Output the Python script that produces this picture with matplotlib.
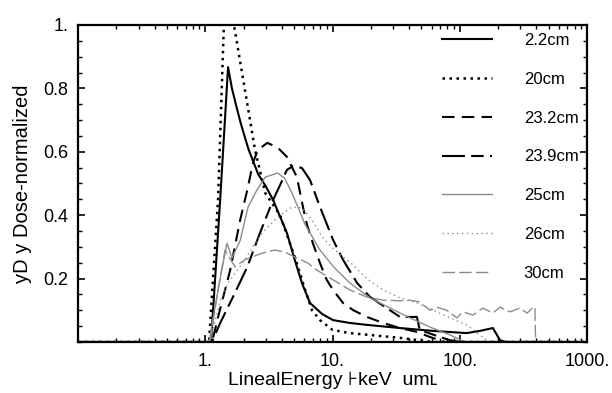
import matplotlib
matplotlib.use("Agg")
import matplotlib.pyplot as plt
from matplotlib.ticker import FixedLocator, FixedFormatter, MultipleLocator, LogLocator, NullFormatter

plt.rcParams["font.family"] = ["Liberation Sans", "DejaVu Sans"]

# lineal energy (keV/um) and normalized y*d(y) for each depth
x_22 = [0.1, 1.11, 1.31, 1.51, 1.62, 1.75, 1.9, 2.05, 2.2, 2.6, 3.0, 3.41, 4.38, 5.05, 5.75,
        6.65, 8.3, 10.1, 13.7, 18.6, 33.9, 61.6, 113, 144, 182, 207, 226, 1000]
y_22 = [0, 0, 0.45, 0.867, 0.80, 0.745, 0.69, 0.645, 0.605, 0.53, 0.49, 0.448, 0.344, 0.259, 0.186,
        0.123, 0.088, 0.069, 0.060, 0.054, 0.044, 0.035, 0.028, 0.035, 0.044, 0.006, 0, 0]

x_20 = [0.1, 1.07, 1.26, 1.40, 1.54, 1.68, 2.04, 2.46, 2.96, 3.87, 5.05, 6.1, 6.9, 7.97,
        10, 13.7, 33.9, 61.6, 1000]
y_20 = [0, 0, 0.45, 1.0, 1.06, 1.0, 0.80, 0.606, 0.47, 0.40, 0.268, 0.164, 0.10, 0.069,
        0.038, 0.028, 0.013, 0, 0]

x_232 = [0.1, 1.13, 1.30, 1.57, 1.88, 2.14, 2.37, 2.59, 3.07, 3.67, 4.38, 5.25, 5.9, 6.3,
         7.0, 7.97, 9.0, 10.1, 12.1, 14.6, 18.6, 25, 33.9, 46, 58, 77, 1000]
y_232 = [0, 0, 0.10, 0.227, 0.385, 0.48, 0.565, 0.606, 0.628, 0.615, 0.584, 0.52, 0.42, 0.37,
         0.312, 0.249, 0.196, 0.164, 0.123, 0.10, 0.079, 0.06, 0.044, 0.032, 0.016, 0, 0]

x_239 = [0.1, 1.13, 1.31, 1.65, 2.14, 2.69, 3.41, 3.87, 4.38, 4.9, 5.75, 6.65, 7.97, 10.1,
         12.1, 15.6, 19.7, 28.3, 33.9, 46, 48.5, 63, 83, 100, 1000]
y_239 = [0, 0, 0.06, 0.142, 0.237, 0.344, 0.448, 0.495, 0.543, 0.555, 0.549, 0.511, 0.426, 0.322,
         0.259, 0.186, 0.142, 0.10, 0.079, 0.079, 0.038, 0.022, 0.006, 0, 0]

x_25 = [0.1, 1.07, 1.26, 1.48, 1.62, 1.88, 2.17, 2.55, 2.96, 3.70, 4.2, 4.8, 6.1, 7.97,
        10.4, 13.7, 19.7, 28.3, 40.6, 58.4, 84, 110, 1000]
y_25 = [0, 0, 0.164, 0.312, 0.265, 0.32, 0.426, 0.48, 0.52, 0.533, 0.517, 0.47, 0.37, 0.29,
        0.233, 0.186, 0.139, 0.107, 0.076, 0.047, 0.022, 0, 0]

x_26 = [0.1, 1.09, 1.31, 1.51, 2.04, 2.79, 3.70, 4.8, 5.75, 6.9, 8.3, 10.4, 13.7, 18.6,
        25, 33.9, 46, 62, 84, 113, 144, 171, 1000]
y_26 = [0, 0, 0.13, 0.186, 0.259, 0.344, 0.394, 0.426, 0.423, 0.385, 0.331, 0.29, 0.252, 0.2,
        0.164, 0.139, 0.123, 0.10, 0.076, 0.054, 0.022, 0, 0]

x_30 = [0.1, 1.09, 1.26, 1.43, 1.71, 2.04, 2.79, 3.5, 4.2, 5.05, 6.4, 7.5, 10.1, 13.7, 18.6,
        25, 33.9, 40.6, 48.5, 58.4, 66, 79, 95, 106, 127, 152, 182, 207, 248, 297, 338,
        378, 390, 392, 395, 1000]
y_30 = [0, 0, 0.164, 0.29, 0.237, 0.259, 0.28, 0.29, 0.284, 0.268, 0.249, 0.227, 0.196, 0.164, 0.142,
        0.132, 0.13, 0.132, 0.126, 0.10, 0.11, 0.10, 0.076, 0.095, 0.085, 0.107, 0.091, 0.11, 0.095,
        0.107, 0.091, 0.11, 0.11, 0.047, 0, 0]

labels = ["2.2cm", "20cm", "23.2cm", "23.9cm", "25cm", "26cm", "30cm"]
x_ticks = [1, 10, 100, 1000]
x_tick_labels = ["1.", "10.", "100.", "1000."]
y_ticks = [0.2, 0.4, 0.6, 0.8, 1.0]
y_tick_labels = ["0.2", "0.4", "0.6", "0.8", "1."]


def main() -> None:
    fig = plt.figure(figsize=(6.12, 3.93), dpi=100)
    ax = fig.add_axes([0.1275, 0.1298, 0.8317, 0.8066])

    black = "black"
    gray = "#8c8c8c"
    series = [
        (x_22, y_22, dict(color=black, lw=1.5, ls="-")),
        (x_20, y_20, dict(color=black, lw=1.8, ls=(0, (1, 1.8)))),
        (x_232, y_232, dict(color=black, lw=1.5, ls=(0, (6, 3.5)))),
        (x_239, y_239, dict(color=black, lw=1.5, ls=(0, (11, 3, 6, 3)))),
        (x_25, y_25, dict(color=gray, lw=1.0, ls="-")),
        (x_26, y_26, dict(color=gray, lw=1.0, ls=(0, (1, 2.5)))),
        (x_30, y_30, dict(color=gray, lw=1.0, ls=(0, (9, 3)))),
    ]
    for (xs, ys, style), label in zip(series, labels):
        ax.plot(xs, ys, label=label, **style)

    ax.set_xscale("log")
    ax.set_xlim(0.1, 1000)
    ax.set_ylim(0, 1)

    ax.xaxis.set_major_locator(FixedLocator(x_ticks))
    ax.xaxis.set_major_formatter(FixedFormatter(x_tick_labels))
    ax.xaxis.set_minor_locator(LogLocator(base=10, subs=range(2, 10)))
    ax.xaxis.set_minor_formatter(NullFormatter())
    ax.yaxis.set_major_locator(FixedLocator(y_ticks))
    ax.yaxis.set_major_formatter(FixedFormatter(y_tick_labels))
    ax.yaxis.set_minor_locator(MultipleLocator(0.05))

    ax.tick_params(which="both", direction="in", top=True, right=True, labelsize=13)
    ax.tick_params(which="major", length=5, width=1.2)
    ax.tick_params(axis="y", which="major", pad=7)
    ax.tick_params(axis="x", which="major", pad=8)
    ax.tick_params(which="minor", length=3, width=1.0)
    for spine in ax.spines.values():
        spine.set_linewidth(1.6)

    ax.set_xlabel("LinealEnergy \u22a6keV  um\u029f", fontsize=14, labelpad=1)
    ax.set_ylabel("yD y Dose-normalized", fontsize=14.5, labelpad=8)

    ax.legend(loc="upper left", bbox_to_anchor=(0.715, 0.975), frameon=False, fontsize=12,
              handlelength=3.0, handletextpad=1.9, labelspacing=1.43, borderpad=0,
              borderaxespad=0)

    fig.savefig("out.png", dpi=100)
    plt.close(fig)


if __name__ == "__main__":
    main()
